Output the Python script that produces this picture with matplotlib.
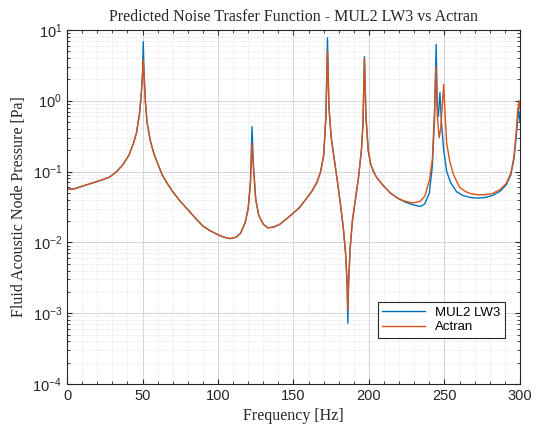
import numpy as np
import matplotlib
matplotlib.use('Agg')
import matplotlib.pyplot as plt
from matplotlib.ticker import MultipleLocator, LogLocator, NullFormatter

# MUL2 LW3
f_mul2 = [0, 5, 10, 17, 23, 28, 33, 37, 41, 44, 46, 48, 49, 50, 50.5, 51, 52, 53, 55, 57.5,
          60, 63, 66, 70, 75, 80, 85, 90, 95, 100, 104, 108, 112, 115, 118, 120, 121.5, 122.5,
          123.5, 125, 127, 130, 133, 137, 141, 146, 150, 154, 158, 162, 165.5, 168, 170, 171.5,
          172.5, 173.5, 175, 177, 179, 181, 183, 184.5, 185.5, 186, 186.5, 187.5, 189, 191, 193,
          195, 196, 197, 198, 199.5, 201, 203, 205, 209, 214, 219, 224, 229, 234, 237, 240, 242,
          243.5, 244.5, 245.3, 246, 247, 248, 249.5, 251.5, 254, 258, 262, 267, 272, 277, 282,
          287, 291, 294, 296, 297.5, 298.5, 299.2, 300]
p_mul2 = [0.056, 0.057, 0.062, 0.069, 0.076, 0.083, 0.1, 0.125, 0.17, 0.25, 0.35, 0.65, 1.1, 2.5,
          6.8, 2.5, 0.9, 0.5, 0.28, 0.18, 0.13, 0.09, 0.07, 0.052, 0.038, 0.029, 0.022, 0.017,
          0.0145, 0.0128, 0.0118, 0.0113, 0.0118, 0.0135, 0.019, 0.03, 0.07, 0.43, 0.12, 0.04,
          0.024, 0.018, 0.016, 0.0165, 0.018, 0.022, 0.026, 0.031, 0.04, 0.052, 0.07, 0.1, 0.17,
          0.6, 7.7, 0.8, 0.3, 0.15, 0.075, 0.036, 0.016, 0.007, 0.0025, 0.00072, 0.0025, 0.008,
          0.02, 0.04, 0.08, 0.2, 0.45, 4.2, 0.6, 0.2, 0.13, 0.1, 0.083, 0.065, 0.05, 0.042, 0.037,
          0.034, 0.032, 0.035, 0.05, 0.12, 0.6, 6.2, 0.8, 0.6, 1.3, 0.5, 0.2, 0.1, 0.07, 0.052,
          0.046, 0.043, 0.042, 0.043, 0.046, 0.053, 0.065, 0.09, 0.15, 0.3, 0.55, 0.74, 0.5]

# Actran
f_actran = [0, 5, 10, 17, 23, 28, 33, 37, 41, 44, 46, 48, 49, 50, 50.5, 51, 52, 53, 55, 57.5,
            60, 63, 66, 70, 75, 80, 85, 90, 95, 100, 104, 108, 112, 115, 118, 120, 121.5, 122.5,
            123.5, 125, 127, 130, 133, 137, 141, 146, 150, 154, 158, 162, 165.5, 168, 170, 171.5,
            172.5, 173.5, 175, 177, 179, 181, 183, 184.5, 185.5, 186, 186.5, 187.5, 189, 191, 193,
            195, 196, 197, 198, 199.5, 201, 203, 205, 209, 214, 219, 224, 229, 234, 237, 240, 242,
            243.5, 244.3, 245.3, 246.5, 247.5, 248.5, 249.5, 250.5, 251.5, 253.5, 256, 260, 264,
            267, 272, 277, 282, 287, 291, 294, 296, 297.5, 298.5, 299.3, 300]
p_actran = [0.056, 0.057, 0.062, 0.069, 0.076, 0.083, 0.1, 0.125, 0.17, 0.25, 0.35, 0.65, 1.1, 2.2,
            3.8, 2.2, 0.9, 0.5, 0.28, 0.18, 0.13, 0.09, 0.07, 0.052, 0.038, 0.029, 0.022, 0.017,
            0.0145, 0.0128, 0.0118, 0.0113, 0.0118, 0.0135, 0.019, 0.03, 0.07, 0.25, 0.11, 0.04,
            0.024, 0.018, 0.016, 0.0165, 0.018, 0.022, 0.026, 0.031, 0.04, 0.052, 0.07, 0.1, 0.17,
            0.6, 5.0, 0.8, 0.3, 0.15, 0.075, 0.036, 0.016, 0.007, 0.003, 0.0011, 0.003, 0.008,
            0.02, 0.04, 0.08, 0.2, 0.45, 4.0, 0.6, 0.2, 0.13, 0.1, 0.083, 0.065, 0.05, 0.042, 0.038,
            0.036, 0.038, 0.045, 0.075, 0.15, 0.8, 3.0, 0.6, 0.3, 0.4, 0.8, 1.7, 0.6, 0.25, 0.14,
            0.09, 0.06, 0.052, 0.049, 0.047, 0.047, 0.049, 0.056, 0.068, 0.095, 0.16, 0.35, 0.7,
            1.0, 0.8]

yticks = [1e-4, 1e-3, 1e-2, 1e-1, 1e0, 1e1]
ytick_labels = [r'$10^{-4}$', r'$10^{-3}$', r'$10^{-2}$', r'$10^{-1}$', r'$10^{0}$', r'$10^{1}$']
xticks = [0, 50, 100, 150, 200, 250, 300]

plt.rcParams['mathtext.default'] = 'regular'
plt.rcParams['font.family'] = 'Liberation Sans'

fig = plt.figure(figsize=(5.45, 4.32), dpi=100)
ax = fig.add_axes([0.123, 0.111, 0.831, 0.820])

ax.plot(f_mul2, p_mul2, color='#0072BD', lw=1.0, label='MUL2 LW3')
ax.plot(f_actran, p_actran, color='#D95319', lw=1.0, label='Actran')

ax.set_yscale('log')
ax.set_xlim(0, 300)
ax.set_ylim(1e-4, 1e1)
ax.set_xticks(xticks)
ax.set_yticks(yticks)
ax.set_yticklabels(ytick_labels)
ax.xaxis.set_minor_locator(MultipleLocator(10))
ax.yaxis.set_minor_locator(LogLocator(base=10, subs=np.arange(2, 10)))
ax.yaxis.set_minor_formatter(NullFormatter())

ax.grid(True, which='major', color='#d4d4d4', lw=0.7, ls='-')
ax.grid(True, which='minor', color='#dcdcdc', lw=0.6, ls=':')
ax.set_axisbelow(True)

ax.tick_params(which='both', direction='in', top=True, right=True, colors='#262626',
               labelsize=10.5)
ax.tick_params(which='minor', length=2)
for s in ax.spines.values():
    s.set_color('#262626')
    s.set_linewidth(0.8)

serif = ['Liberation Serif', 'DejaVu Serif']
ax.set_title('Predicted Noise Trasfer Function - MUL2 LW3 vs Actran', family=serif,
             fontsize=11.5, color='#262626', pad=6)
ax.set_xlabel('Frequency [Hz]', family=serif, fontsize=11.5, color='#262626')
ax.set_ylabel('Fluid Acoustic Node Pressure [Pa]', family=serif, fontsize=11.5, color='#262626')

leg = ax.legend(loc='lower right', bbox_to_anchor=(0.967, 0.13), borderaxespad=0,
                fancybox=False, edgecolor='#262626', framealpha=1, fontsize=9.5,
                handlelength=3.2, borderpad=0.35, labelspacing=0.2)
leg.get_frame().set_linewidth(0.8)

fig.savefig('out.png', dpi=100)
